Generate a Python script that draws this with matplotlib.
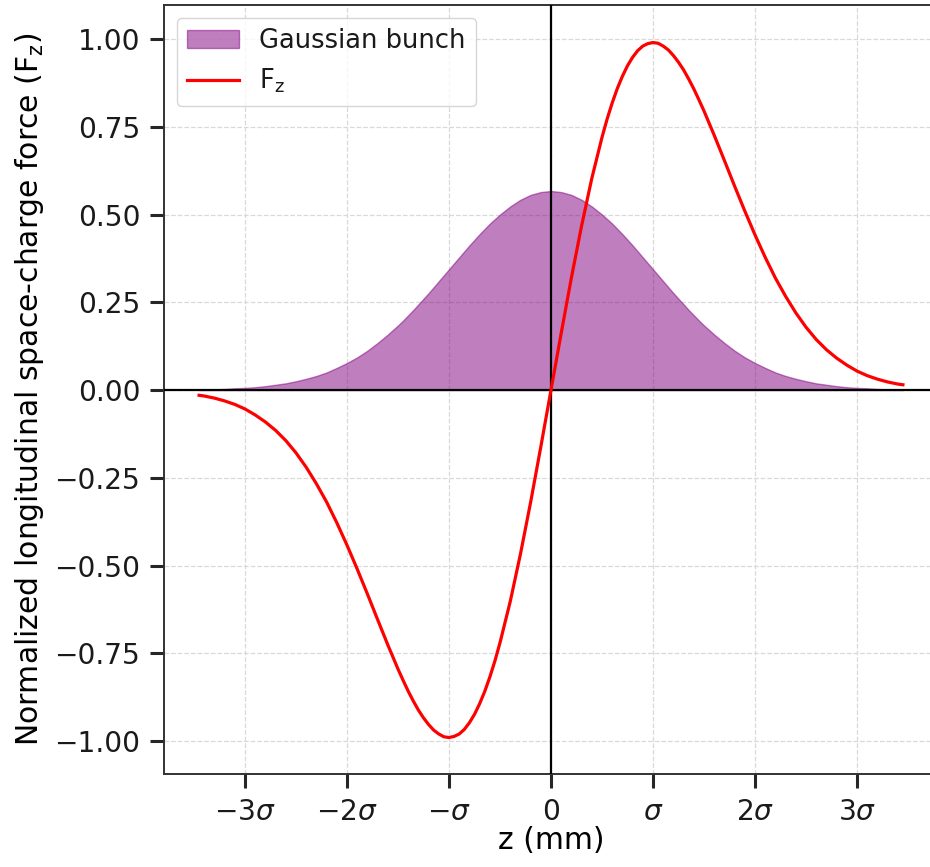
import numpy as np
import matplotlib
matplotlib.use("Agg")
import matplotlib.pyplot as plt

# z in units of sigma
z_sigma = [-3.45, -3.4, -3.3, -3.2, -3.1, -3.0, -2.9, -2.8, -2.7, -2.6, -2.5,
           -2.4, -2.3, -2.2, -2.1, -2.0, -1.9, -1.8, -1.7, -1.6, -1.5,
           -1.45, -1.4, -1.35, -1.3, -1.25, -1.2, -1.15, -1.1, -1.05, -1.0,
           -0.95, -0.9, -0.85, -0.8, -0.75, -0.7, -0.65, -0.6, -0.55, -0.5,
           -0.4, -0.3, -0.2, -0.1, 0.0, 0.1, 0.2, 0.3, 0.4, 0.5,
           0.55, 0.6, 0.65, 0.7, 0.75, 0.8, 0.85, 0.9, 0.95, 1.0,
           1.05, 1.1, 1.15, 1.2, 1.25, 1.3, 1.35, 1.4, 1.45, 1.5,
           1.6, 1.7, 1.8, 1.9, 2.0, 2.1, 2.2, 2.3, 2.4, 2.5,
           2.6, 2.7, 2.8, 2.9, 3.0, 3.1, 3.2, 3.3, 3.4, 3.45]

# Gaussian line density (normalised)
bunch = [0.001, 0.002, 0.002, 0.003, 0.005, 0.006, 0.008, 0.011, 0.015, 0.019, 0.025,
         0.032, 0.040, 0.050, 0.063, 0.077, 0.093, 0.112, 0.134, 0.158, 0.184,
         0.198, 0.213, 0.228, 0.244, 0.260, 0.276, 0.293, 0.310, 0.327, 0.344,
         0.361, 0.378, 0.395, 0.412, 0.428, 0.444, 0.459, 0.474, 0.487, 0.500,
         0.523, 0.542, 0.556, 0.564, 0.567, 0.564, 0.556, 0.542, 0.523, 0.500,
         0.487, 0.474, 0.459, 0.444, 0.428, 0.412, 0.395, 0.378, 0.361, 0.344,
         0.327, 0.310, 0.293, 0.276, 0.260, 0.244, 0.228, 0.213, 0.198, 0.184,
         0.158, 0.134, 0.112, 0.093, 0.077, 0.063, 0.050, 0.040, 0.032, 0.025,
         0.019, 0.015, 0.011, 0.008, 0.006, 0.005, 0.003, 0.002, 0.002, 0.001]

# normalised longitudinal space-charge force
fz = [-0.015, -0.017, -0.023, -0.031, -0.041, -0.054, -0.071, -0.091, -0.115, -0.144, -0.179,
      -0.220, -0.267, -0.319, -0.378, -0.442, -0.510, -0.581, -0.654, -0.726, -0.795,
      -0.827, -0.858, -0.886, -0.912, -0.934, -0.953, -0.969, -0.980, -0.988, -0.990,
      -0.987, -0.980, -0.967, -0.948, -0.924, -0.894, -0.859, -0.818, -0.772, -0.720,
      -0.603, -0.468, -0.320, -0.162, 0.0, 0.162, 0.320, 0.468, 0.603, 0.720,
      0.772, 0.818, 0.859, 0.894, 0.924, 0.948, 0.967, 0.980, 0.987, 0.990,
      0.988, 0.980, 0.969, 0.953, 0.934, 0.912, 0.886, 0.858, 0.827, 0.795,
      0.726, 0.654, 0.581, 0.510, 0.442, 0.378, 0.319, 0.267, 0.220, 0.179,
      0.144, 0.115, 0.091, 0.071, 0.054, 0.041, 0.031, 0.023, 0.017, 0.015]

xtick_pos = [-3, -2, -1, 0, 1, 2, 3]
xtick_labels = [r'$-3\sigma$', r'$-2\sigma$', r'$-\sigma$', r'$0$',
                r'$\sigma$', r'$2\sigma$', r'$3\sigma$']
ytick_pos = [-1.0, -0.75, -0.5, -0.25, 0.0, 0.25, 0.5, 0.75, 1.0]

plt.rcParams['font.family'] = ['DejaVu Sans']
plt.rcParams['mathtext.fontset'] = 'dejavusans'
plt.rcParams['text.color'] = '0.1'

fig = plt.figure(figsize=(9.3, 8.67), dpi=100)
ax = fig.add_axes([164 / 930, 93 / 867, 774 / 930, 769 / 867])

ax.fill_between(z_sigma, bunch, color='purple', alpha=0.5, label='Gaussian bunch', zorder=2)
ax.axhline(0, color='black', lw=1.6, zorder=3)
ax.axvline(0, color='black', lw=1.6, zorder=3)
ax.plot(z_sigma, fz, color='red', lw=2.3, label=r'$\mathrm{F_z}$', zorder=4)

ax.set_xlim(-3.794, 3.794)
ax.set_ylim(-1.094, 1.097)
ax.set_xticks(xtick_pos)
ax.set_xticklabels(xtick_labels)
ax.set_yticks(ytick_pos)
ax.grid(True, linestyle='--', color='0.85', lw=0.9, zorder=0)
ax.set_axisbelow(True)

ax.tick_params(axis='both', labelsize=20.2, length=10, width=2.2, color='0.15',
               labelcolor='0.1', pad=7)
for s in ax.spines.values():
    s.set_linewidth(1.4)
    s.set_color('0.2')

ax.set_xlabel('z (mm)', fontsize=21.5, labelpad=0)
ax.set_ylabel(r'Normalized longitudinal space-charge force ($\mathrm{F_z}$)', fontsize=21.5, labelpad=6)
ax.legend(loc='upper left', fontsize=18.5)

fig.savefig('out.png', dpi=100)
